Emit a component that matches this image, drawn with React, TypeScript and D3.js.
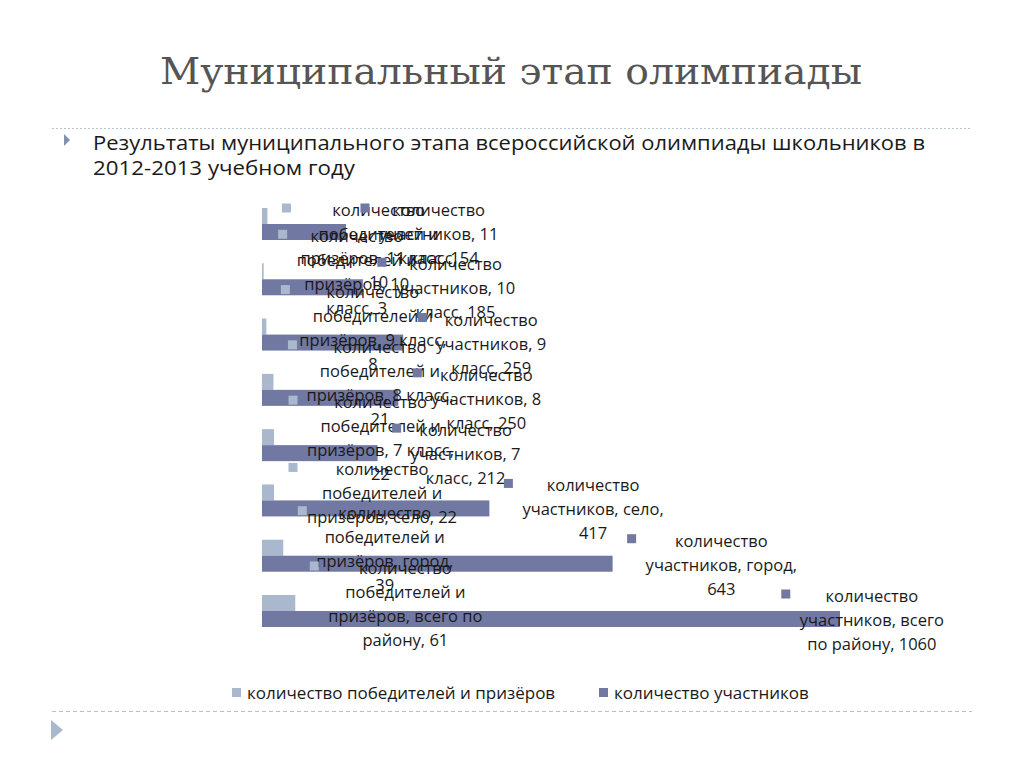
import React, { useRef, useEffect } from 'react';
import * as d3 from 'd3';

// rows from top to bottom, as in the chart
const categories = ["11 класс", "10 класс", "9 класс", "8 класс", "7 класс", "село", "город", "всего по району"];
const winners = [10, 3, 8, 21, 22, 22, 39, 61];
const participants = [154, 185, 259, 250, 212, 417, 643, 1060];

const winnerLabels = [
    ["количество", "победителей и", "призёров, 11 класс,", "10"],
    ["количество", "победителей и", "призёров, 10", "класс, 3"],
    ["количество", "победителей и", "призёров, 9 класс,", "8"],
    ["количество", "победителей и", "призёров, 8 класс,", "21"],
    ["количество", "победителей и", "призёров, 7 класс,", "22"],
    ["количество", "победителей и", "призёров, село, 22"],
    ["количество", "победителей и", "призёров, город,", "39"],
    ["количество", "победителей и", "призёров, всего по", "району, 61"],
];
const participantLabels = [
    ["количество", "участников, 11", "класс, 154"],
    ["количество", "участников, 10", "класс, 185"],
    ["количество", "участников, 9", "класс, 259"],
    ["количество", "участников, 8", "класс, 250"],
    ["количество", "участников, 7", "класс, 212"],
    ["количество", "участников, село,", "417"],
    ["количество", "участников, город,", "643"],
    ["количество", "участников, всего", "по району, 1060"],
];
const seriesNames = ["количество победителей и призёров", "количество участников"];
const colors = ["#a9b8cd", "#7178a2"];

const App = () => {
    const svgRef = useRef(null);

    useEffect(() => {
        const svg = d3.select(svgRef.current);
        svg.selectAll("*").remove();
        const width = 1024;
        const height = 768;
        const labelFont = "'Open Sans', sans-serif";

        svg.attr("width", width).attr("height", height).attr("viewBox", [0, 0, width, height]);
        svg.append("rect").attr("width", width).attr("height", height).attr("fill", "#fff");

        // slide title
        svg.append("text")
            .attr("x", 511).attr("y", 84)
            .attr("text-anchor", "middle")
            .attr("font-family", "'DejaVu Serif', serif")
            .attr("font-size", 37)
            .attr("fill", "#555")
            .attr("textLength", 702)
            .attr("lengthAdjust", "spacingAndGlyphs")
            .text("Муниципальный этап олимпиады");

        svg.append("line")
            .attr("x1", 52).attr("x2", 972).attr("y1", 128.5).attr("y2", 128.5)
            .attr("stroke", "#b7c3cc").attr("stroke-dasharray", "2,2");
        svg.append("line")
            .attr("x1", 52).attr("x2", 972).attr("y1", 711.5).attr("y2", 711.5)
            .attr("stroke", "#b7c3cc").attr("stroke-dasharray", "4,3");

        svg.append("path").attr("d", "M64,134L70,140L64,146Z").attr("fill", "#8191ab");
        svg.append("path").attr("d", "M51,720L63,730L51,740Z").attr("fill", "#a9b9cc");

        svg.append("text")
            .attr("x", 93).attr("y", 150)
            .attr("font-family", labelFont).attr("font-size", 20).attr("fill", "#1a1a1a")
            .attr("textLength", 832).attr("lengthAdjust", "spacingAndGlyphs")
            .text("Результаты муниципального этапа всероссийской олимпиады школьников в");
        svg.append("text")
            .attr("x", 93).attr("y", 175)
            .attr("font-family", labelFont).attr("font-size", 20).attr("fill", "#1a1a1a")
            .attr("textLength", 262).attr("lengthAdjust", "spacingAndGlyphs")
            .text("2012-2013 учебном году");

        // chart
        const x = d3.scaleLinear().domain([0, 1200]).range([262, 262 + 578 / 1060 * 1200]);
        const y = d3.scalePoint().domain(categories).range([224, 611]);
        const barH = 16;

        const rows = categories.map((c, i) => ({ c, i, w: winners[i], p: participants[i] }));

        const g = svg.append("g");
        g.selectAll("rect.w").data(rows).join("rect")
            .attr("x", x(0)).attr("y", d => y(d.c) - barH)
            .attr("width", d => x(d.w) - x(0)).attr("height", barH)
            .attr("fill", colors[0]);
        g.selectAll("rect.p").data(rows).join("rect")
            .attr("x", x(0)).attr("y", d => y(d.c))
            .attr("width", d => x(d.p) - x(0)).attr("height", barH)
            .attr("fill", colors[1]);

        // data labels with legend keys
        const lineH = 24;
        const topLimit = 211;
        const rightLimit = 944;
        const labels = svg.append("g")
            .attr("font-family", labelFont).attr("font-size", 16.5).attr("fill", "#1a1a1a");

        const drawLabel = (lines, value, barCenter, color) => {
            const n = lines.length;
            const first = Math.max(topLimit, barCenter + 2 - (n - 1) / 2 * lineH);
            const lg = labels.append("g");
            const texts = lines.map((t, k) => lg.append("text")
                .attr("y", first + k * lineH + 5)
                .attr("text-anchor", "middle")
                .text(t));
            const w = d3.max(texts, t => t.node().getComputedTextLength());
            const mx = Math.min(x(value) + 19, rightLimit - w - 14);
            texts.forEach(t => t.attr("x", mx + 14 + w / 2));
            lg.insert("rect", "text")
                .attr("x", mx - 4.5).attr("y", first - 3 - 4.5)
                .attr("width", 9).attr("height", 9)
                .attr("fill", color);
        };

        rows.forEach(d => {
            drawLabel(winnerLabels[d.i], d.w, y(d.c) - barH / 2, colors[0]);
        });
        rows.forEach(d => {
            drawLabel(participantLabels[d.i], d.p, y(d.c) + barH / 2, colors[1]);
        });

        // legend
        const legend = svg.append("g")
            .attr("font-family", labelFont).attr("font-size", 17).attr("fill", "#1a1a1a");
        const legendX = [232, 599];
        seriesNames.forEach((name, i) => {
            legend.append("rect")
                .attr("x", legendX[i]).attr("y", 688).attr("width", 9).attr("height", 9)
                .attr("fill", colors[i]);
            legend.append("text")
                .attr("x", legendX[i] + 15).attr("y", 699)
                .text(name);
        });
    }, []);

    return <svg ref={svgRef} style={{ position: 'absolute', left: 0, top: 0 }}></svg>;
};

export default App;
